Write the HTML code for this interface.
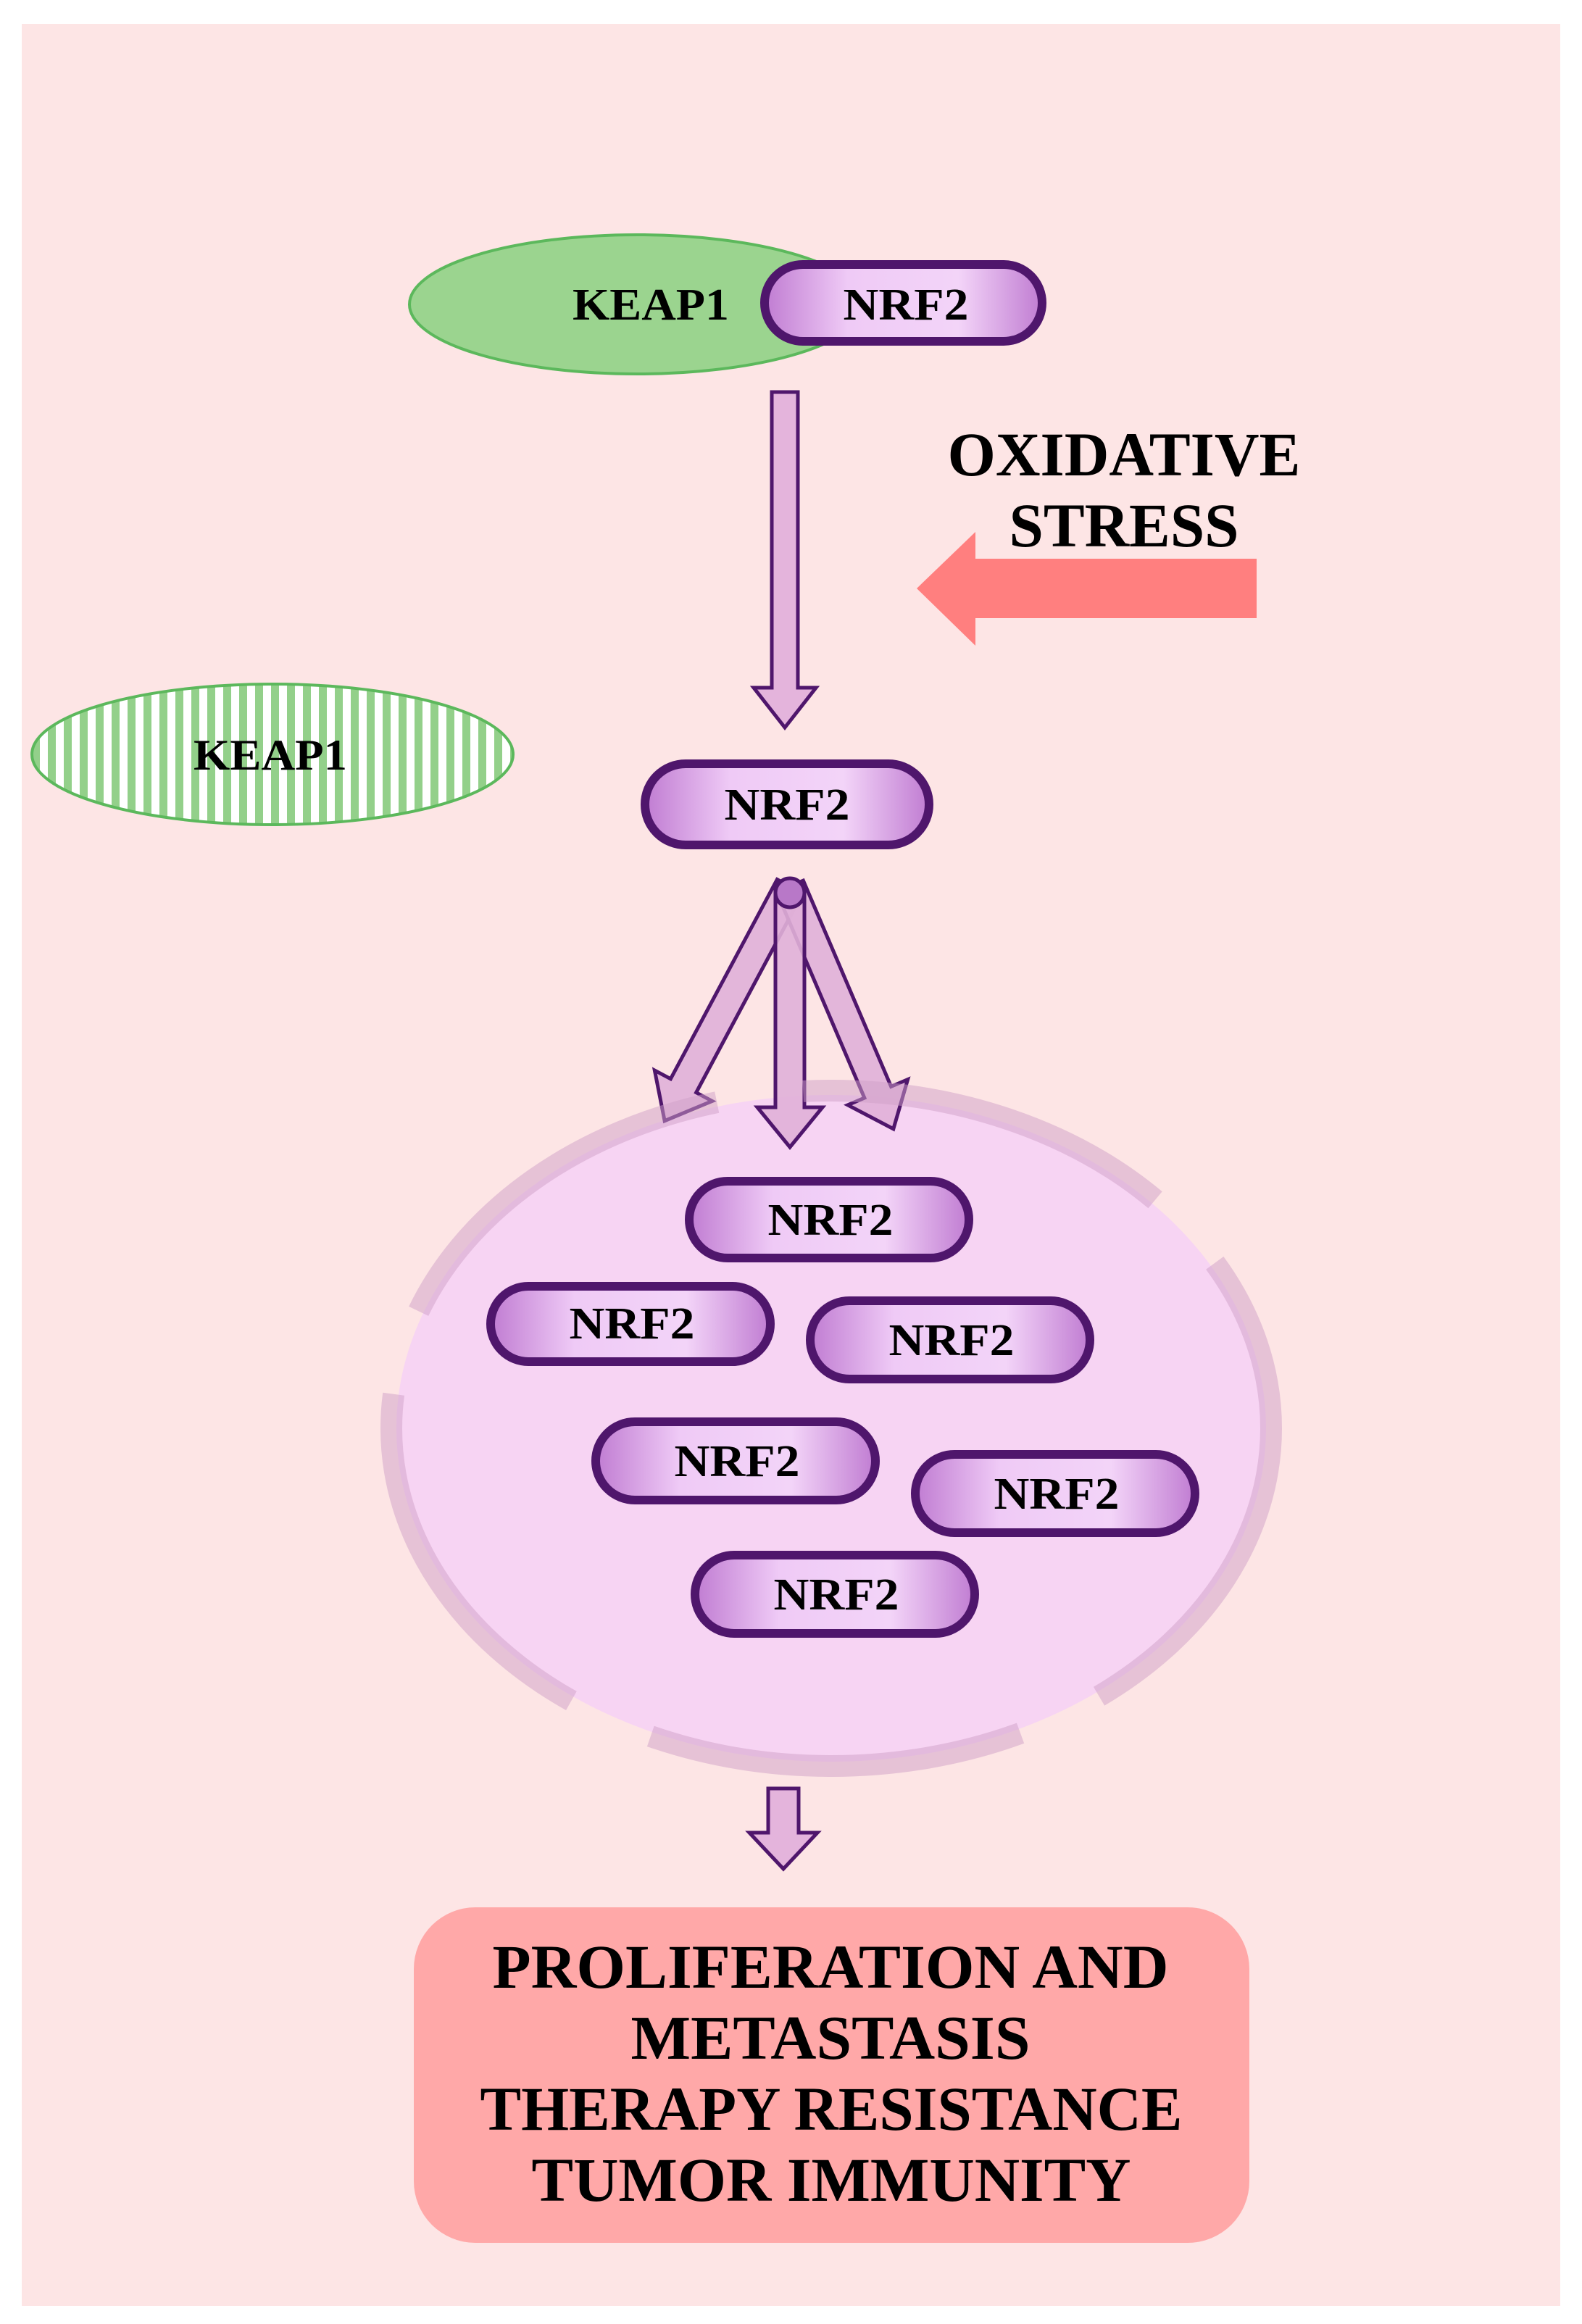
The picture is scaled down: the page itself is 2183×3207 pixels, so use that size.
<!DOCTYPE html>
<html><head><meta charset="utf-8"><style>html,body{margin:0;padding:0;background:#fff}svg{display:block}</style></head>
<body>
<svg width="2183" height="3207" viewBox="0 0 2183 3207" xmlns="http://www.w3.org/2000/svg">
<defs>
<linearGradient id="pg" x1="0" y1="0" x2="1" y2="0">
<stop offset="0" stop-color="#c07cd2"/><stop offset="0.3" stop-color="#efcaf6"/><stop offset="0.7" stop-color="#f3d4f8"/><stop offset="1" stop-color="#c07cd2"/>
</linearGradient>
<pattern id="stripes" width="22" height="22" patternUnits="userSpaceOnUse">
<rect width="22" height="22" fill="#fff"/><rect width="11" height="22" fill="#93d08a"/>
</pattern>
</defs>
<rect x="30" y="33" width="2123" height="3149" fill="#fde5e5"/>

<ellipse cx="879" cy="420" rx="314" ry="96" fill="#9bd48f" stroke="#5cb85c" stroke-width="4"/>
<rect x="1055" y="365" width="383" height="106" rx="53" fill="url(#pg)" stroke="#4f166c" stroke-width="12"/>
<g font-family="Liberation Serif, serif" font-weight="bold" fill="#000" text-anchor="middle">
<text x="898" y="441" font-size="62" textLength="216" lengthAdjust="spacingAndGlyphs">KEAP1</text>
<text x="1250" y="441" font-size="62" textLength="173" lengthAdjust="spacingAndGlyphs">NRF2</text>
</g>

<polygon points="1065,541 1101,541 1101,949 1126,949 1083,1004 1040,949 1065,949" fill="#e4b4dc" stroke="#4f166c" stroke-width="5"/>

<g font-family="Liberation Serif, serif" font-weight="bold" fill="#000" text-anchor="middle">
<text x="1551" y="656" font-size="86" textLength="487" lengthAdjust="spacingAndGlyphs">OXIDATIVE</text>
<text x="1551" y="754" font-size="86" textLength="317" lengthAdjust="spacingAndGlyphs">STRESS</text>
</g>
<polygon points="1265,812 1346,734 1346,771 1734,771 1734,853 1346,853 1346,891" fill="#ff7f7f"/>

<ellipse cx="376" cy="1041" rx="332" ry="97" fill="url(#stripes)" stroke="#5cb85c" stroke-width="4"/>
<text x="373" y="1062" font-family="Liberation Serif, serif" font-weight="bold" font-size="60" text-anchor="middle" textLength="212" lengthAdjust="spacingAndGlyphs">KEAP1</text>

<rect x="890" y="1054" width="392" height="112" rx="56" fill="url(#pg)" stroke="#4f166c" stroke-width="12"/>
<text x="1086" y="1131" font-family="Liberation Serif, serif" font-weight="bold" font-size="62" text-anchor="middle" textLength="173" lengthAdjust="spacingAndGlyphs">NRF2</text>

<ellipse cx="1147" cy="1971" rx="600" ry="460" fill="#f7d4f3"/>

<g fill="#e0b0d8" stroke="#4f166c" stroke-width="5" fill-opacity="0.9">
<polygon transform="translate(1090,1223) rotate(28.1)" points="-20,0 20,0 20,312 45,312 0,367 -45,312 -20,312"/>
<polygon transform="translate(1090,1223) rotate(-23.1)" points="-20,0 20,0 20,309 45,309 0,364 -45,309 -20,309"/>
<polygon transform="translate(1090,1223)" points="-20,0 20,0 20,305 45,305 0,360 -45,305 -20,305"/>
</g>
<circle cx="1090" cy="1232" r="20" fill="#b878c8" stroke="#4f166c" stroke-width="5"/>

<ellipse cx="1147" cy="1971" rx="607" ry="466" fill="none" stroke="#cfa0c8" stroke-opacity="0.5" stroke-width="30" stroke-dasharray="520 120" stroke-dashoffset="60"/>

<g stroke="#4f166c" stroke-width="12" fill="url(#pg)">
<rect x="951" y="1630" width="386" height="106" rx="53"/>
<rect x="677" y="1775" width="386" height="104" rx="52"/>
<rect x="1118" y="1795" width="386" height="108" rx="54"/>
<rect x="822" y="1962" width="386" height="108" rx="54"/>
<rect x="1263" y="2007" width="386" height="108" rx="54"/>
<rect x="959" y="2146" width="386" height="108" rx="54"/>
</g>
<g font-family="Liberation Serif, serif" font-weight="bold" font-size="62" text-anchor="middle">
<text x="1146" y="1704" textLength="173" lengthAdjust="spacingAndGlyphs">NRF2</text>
<text x="872" y="1847" textLength="173" lengthAdjust="spacingAndGlyphs">NRF2</text>
<text x="1313" y="1870" textLength="173" lengthAdjust="spacingAndGlyphs">NRF2</text>
<text x="1017" y="2037" textLength="173" lengthAdjust="spacingAndGlyphs">NRF2</text>
<text x="1458" y="2082" textLength="173" lengthAdjust="spacingAndGlyphs">NRF2</text>
<text x="1154" y="2221" textLength="173" lengthAdjust="spacingAndGlyphs">NRF2</text>
</g>

<polygon points="1060,2468 1102,2468 1102,2529 1128,2529 1081,2579 1034,2529 1060,2529" fill="#e4b4dc" stroke="#4f166c" stroke-width="5"/>

<rect x="571" y="2632" width="1153" height="463" rx="85" fill="#ffa8a8"/>
<g font-family="Liberation Serif, serif" font-weight="bold" font-size="86" text-anchor="middle">
<text x="1146" y="2743" textLength="933" lengthAdjust="spacingAndGlyphs">PROLIFERATION AND</text>
<text x="1146" y="2841" textLength="551" lengthAdjust="spacingAndGlyphs">METASTASIS</text>
<text x="1147" y="2939" textLength="969" lengthAdjust="spacingAndGlyphs">THERAPY RESISTANCE</text>
<text x="1147" y="3037" textLength="827" lengthAdjust="spacingAndGlyphs">TUMOR IMMUNITY</text>
</g>
</svg>
</body></html>
